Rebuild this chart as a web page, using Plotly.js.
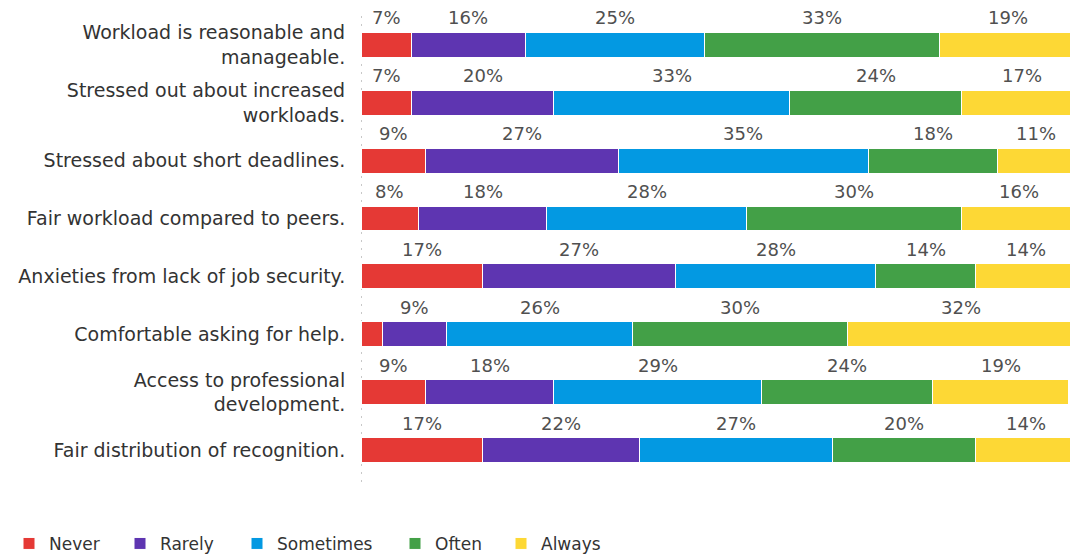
<!DOCTYPE html>
<html>
<head>
<meta charset="utf-8">
<script src="https://cdn.plot.ly/plotly-3.0.1.min.js"></script>
<style>html,body{margin:0;padding:0;background:#fff;}#chart{width:1070px;height:555px;}</style>
</head>
<body>
<div id="chart"></div>
<script>
const categories = [
  "Workload is reasonable and<br>manageable.",
  "Stressed out about increased<br>workloads.",
  "Stressed about short deadlines.",
  "Fair workload compared to peers.",
  "Anxieties from lack of job security.",
  "Comfortable asking for help.",
  "Access to professional<br>development.",
  "Fair distribution of recognition."
];
const seriesNames = ["Never", "Rarely", "Sometimes", "Often", "Always"];
const never     = [7, 7, 9, 8, 17, 3, 9, 17];
const rarely    = [16, 20, 27, 18, 27, 9, 18, 22];
const sometimes = [25, 33, 35, 28, 28, 26, 29, 27];
const often     = [33, 24, 18, 30, 14, 30, 24, 20];
const always    = [19, 17, 11, 16, 14, 32, 19, 14];
const colors = ["#e53935", "#5e35b1", "#0399e2", "#43a047", "#fdd835"];

const series = [never, rarely, sometimes, often, always];
const FONT = "DejaVu Sans, Verdana, sans-serif";
const legendIds = ["legend", "legend2", "legend3", "legend4", "legend5"];
const legendX = [9, 120, 237, 395, 501];

const traces = series.map((vals, i) => ({
  type: "bar",
  orientation: "h",
  name: seriesNames[i],
  legend: legendIds[i],
  y: categories,
  x: vals,
  width: 0.43,
  marker: {color: colors[i], line: {color: "#ffffff", width: 1}},
  hoverinfo: "none"
}));

const annotations = [];
categories.forEach((cat, r) => {
  let cum = 0;
  series.forEach((vals) => {
    const v = vals[r];
    if (v >= 5) {
      annotations.push({
        x: cum + v / 2, y: cat, xref: "x", yref: "y",
        text: v + "%", showarrow: false, yshift: 27,
        xanchor: "center", yanchor: "middle",
        font: {family: FONT, size: 18, color: "#505050"}
      });
    }
    cum += v;
  });
});

const layout = {
  width: 1070, height: 555,
  margin: {l: 361, r: 0, t: 10, b: 73},
  paper_bgcolor: "#ffffff", plot_bgcolor: "#ffffff",
  barmode: "stack",
  bargap: 0.57,
  showlegend: true,
  font: {family: FONT, color: "#333333"},
  xaxis: {range: [0, 99.2], showgrid: false, zeroline: false, showticklabels: false, showline: false, ticks: "", fixedrange: true},
  yaxis: {
    type: "category", categoryorder: "array", categoryarray: categories,
    range: [7.55, -0.6], showgrid: false, zeroline: false, showline: false,
    ticks: "outside", ticklen: 11, tickcolor: "rgba(0,0,0,0)",
    tickfont: {family: FONT, size: 19, color: "#333333"}
  },
  shapes: [{
    type: "line", xref: "x", yref: "paper", x0: 0, x1: 0, y0: 0, y1: 1,
    line: {color: "#c8c8c8", width: 2, dash: "2px,6px"}, layer: "below"
  }],
  annotations: annotations
};

legendIds.forEach((id, i) => {
  layout[id] = {
    orientation: "h", xref: "container", yref: "container",
    x: legendX[i] / 1070, y: 0.02, xanchor: "left", yanchor: "middle",
    bgcolor: "rgba(0,0,0,0)",
    font: {family: FONT, size: 17, color: "#333333"}
  };
});

Plotly.newPlot("chart", traces, layout, {displayModeBar: false, staticPlot: true});
</script>
</body>
</html>
